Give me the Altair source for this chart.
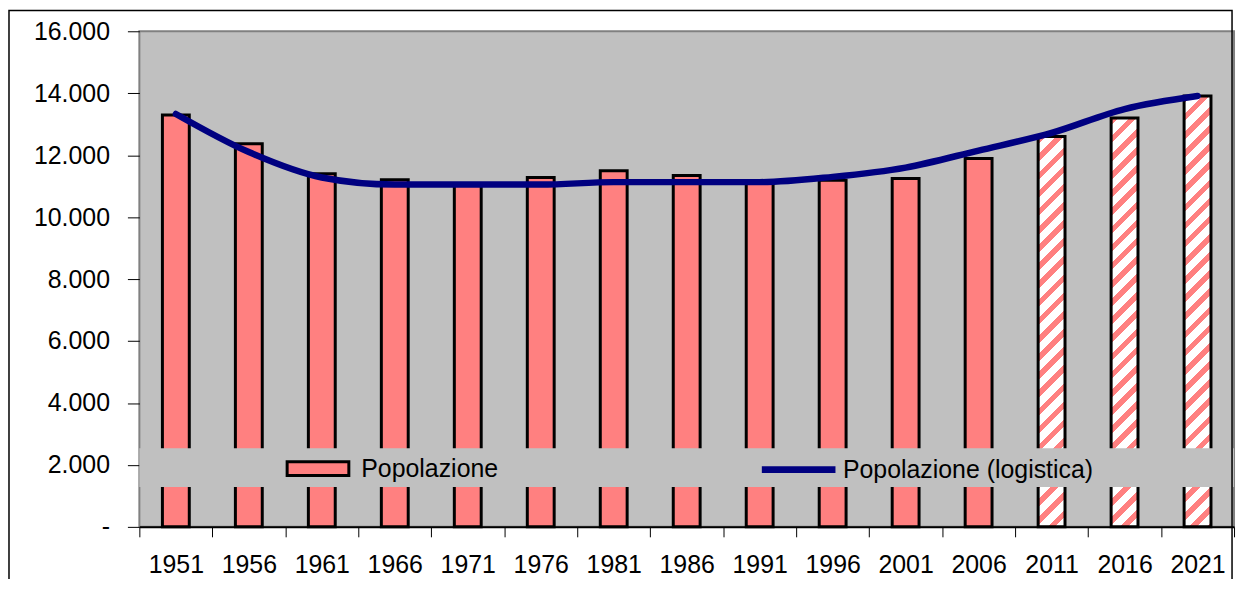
import math
import altair as alt
import pandas as pd

# ---- data ----
years = ["1951", "1956", "1961", "1966", "1971", "1976", "1981", "1986",
         "1991", "1996", "2001", "2006", "2011", "2016", "2021"]
popolazione = [13300, 12370, 11400, 11210, 11050, 11280, 11500, 11340,
               11090, 11190, 11250, 11890, 12600, 13200, 13910]
logistica = [13330, 12100, 11280, 11050, 11050, 11050, 11130, 11130,
             11130, 11300, 11600, 12150, 12720, 13490, 13910]
projected_years = ["2011", "2016", "2021"]

y_ticks = [0, 2000, 4000, 6000, 8000, 10000, 12000, 14000, 16000]
legend_band = [1290, 2540]

# ---- style ----
FONT = "Liberation Sans"
PINK = "#FF8080"
NAVY = "#000080"
PLOT_W, PLOT_H = 1100, 498
Y_MAX = 16000
BAR_W = 27

df = pd.DataFrame({
    "anno": years,
    "pop": popolazione,
    "logistica": logistica,
    "serie": "Popolazione",
    "serie2": "Popolazione (logistica)",
})

x_enc = alt.X(
    "anno:N", sort=years, title=None,
    scale=alt.Scale(paddingInner=0, paddingOuter=0),
    axis=alt.Axis(tickBand="extent", labelAngle=0, labelFont=FONT, labelFontSize=25,
                  labelColor="black", tickSize=10, tickColor="black", tickWidth=1,
                  domainColor="black", domainWidth=2, labelPadding=16),
)
y_scale = alt.Scale(domain=[0, Y_MAX], nice=False)
y_enc = alt.Y(
    "pop:Q", scale=y_scale, title=None,
    axis=alt.Axis(values=y_ticks, grid=False, domain=False,
                  labelExpr="datum.value == 0 ? '-' : replace(format(datum.value, ','), ',', '.')",
                  labelFont=FONT, labelFontSize=25, labelColor="black",
                  tickSize=12, tickColor="black", labelPadding=18),
)

base = alt.Chart(df)

solid = base.transform_filter(
    alt.FieldOneOfPredicate(field="anno", oneOf=[y for y in years if y not in projected_years])
).mark_bar(width=BAR_W, stroke="black", strokeWidth=3).encode(
    x=x_enc, y=y_enc,
    color=alt.Color("serie:N", scale=alt.Scale(domain=["Popolazione"], range=[PINK]),
                    legend=alt.Legend(orient="none", legendX=147, legendY=407, title=None,
                                      symbolType="M-1,-0.22H1V0.22H-1Z", symbolSize=62 * 62,
                                      symbolStrokeColor="black", symbolStrokeWidth=3,
                                      symbolOpacity=1, labelFont=FONT, labelFontSize=25,
                                      labelColor="black", labelOffset=11, labelLimit=0,
                                      padding=0)),
)


def hatch_gradient(value):
    h = value / Y_MAX * PLOT_H
    w = BAR_W
    r = w / h
    c = (r + 1) / (r * r + 1)
    period = 12.9
    n = (h + w) / (math.sqrt(2) * period)
    stops = []
    k = 0
    while k / n < 1:
        a = k / n
        b = min((k + 0.42) / n, 1)
        e = min((k + 1) / n, 1)
        stops += [alt.GradientStop(offset=a, color=PINK), alt.GradientStop(offset=b, color=PINK),
                  alt.GradientStop(offset=b, color="white"), alt.GradientStop(offset=e, color="white")]
        k += 1
    return alt.Gradient(gradient="linear", x1=0, y1=0, x2=c * r, y2=c, stops=stops)


hatched_layers = []
for yr in projected_years:
    v = popolazione[years.index(yr)]
    hatched_layers.append(
        base.transform_filter(alt.datum.anno == yr).mark_bar(
            width=BAR_W, stroke="black", strokeWidth=3, fill=hatch_gradient(v)
        ).encode(x=x_enc, y=y_enc)
    )

band_df = pd.DataFrame({"y0": [legend_band[0]], "y1": [legend_band[1]]})
band = alt.Chart(band_df).mark_rect(color="#C0C0C0").encode(
    x=alt.value(0), x2=alt.value(PLOT_W),
    y=alt.Y("y0:Q", scale=y_scale), y2="y1:Q",
)

line = base.mark_line(strokeWidth=6.5, strokeCap="round", strokeJoin="round",
                      interpolate="monotone").encode(
    x=x_enc,
    y=alt.Y("logistica:Q", scale=y_scale),
    stroke=alt.Stroke("serie2:N", scale=alt.Scale(domain=["Popolazione (logistica)"], range=[NAVY]),
                      legend=alt.Legend(orient="none", legendX=622, legendY=400, title=None,
                                        symbolType="stroke", symbolSize=74 * 74,
                                        symbolStrokeWidth=7, labelFont=FONT, labelFontSize=25,
                                        labelColor="black", labelOffset=4, labelLimit=0,
                                        padding=0)),
)

frame = alt.Chart(band_df).mark_rect(filled=False, stroke="black", strokeWidth=1.5).encode(
    x=alt.value(-131), x2=alt.value(PLOT_W - 2), y=alt.value(-21), y2=alt.value(700),
)

chart = alt.layer(solid, *hatched_layers, band, line, frame).resolve_scale(
    color="independent"
).properties(
    width=PLOT_W, height=PLOT_H,
    autosize=alt.AutoSizeParams(type="none"),
    padding={"left": 132, "top": 22, "right": 5, "bottom": 51},
    background="white",
).configure_view(
    fill="#C0C0C0", stroke="#808080", strokeWidth=2
)

chart.save("out.html", embed_options={"renderer": "svg", "actions": False})
